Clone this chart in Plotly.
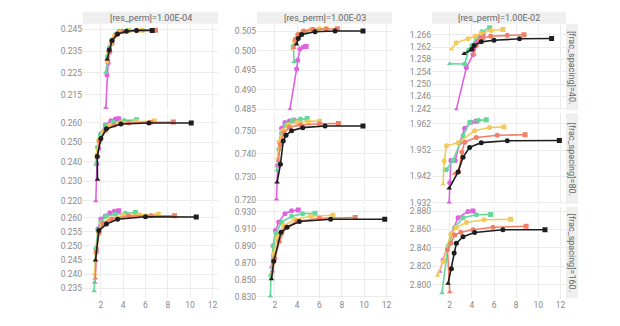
import plotly.graph_objects as go

# ---------------- data ----------------
COL_TITLES = ["[res_perm]=1.00E-04", "[res_perm]=1.00E-03", "[res_perm]=1.00E-02"]
ROW_TITLES = ["[frac_spacing]=40.", "[frac_spacing]=80.", "[frac_spacing]=160."]
SERIES = ["magenta", "green", "yellow", "orange", "black"]
COLORS = ["#DF62DF", "#66D79A", "#F3C95A", "#F07F68", "#1E1E1E"]

# row 1, col 1
p11_magenta_x = [2.45, 2.55, 2.65, 2.8, 3.0, 3.3, 3.7]
p11_magenta_y = [0.2090, 0.2240, 0.2295, 0.2345, 0.2385, 0.2425, 0.2440]
p11_green_x = [2.45, 2.6, 2.75, 3.0, 3.4, 3.9, 4.5]
p11_green_y = [0.2253, 0.2325, 0.2365, 0.2400, 0.2430, 0.2442, 0.2445]
p11_yellow_x = [2.55, 2.7, 2.9, 3.2, 3.7, 4.5, 5.7]
p11_yellow_y = [0.2300, 0.2345, 0.2385, 0.2418, 0.2438, 0.2445, 0.2446]
p11_orange_x = [2.6, 2.75, 3.0, 3.4, 4.0, 5.2, 6.9]
p11_orange_y = [0.2310, 0.2350, 0.2395, 0.2425, 0.2440, 0.2445, 0.2446]
p11_black_x = [2.57, 2.75, 3.0, 3.5, 4.3, 5.2, 6.6]
p11_black_y = [0.2313, 0.2355, 0.2399, 0.2428, 0.2441, 0.2445, 0.2445]

# row 1, col 2
p12_magenta_x = [3.35, 3.95, 4.05, 4.25, 4.55, 4.8]
p12_magenta_y = [0.4850, 0.4953, 0.4976, 0.5005, 0.5010, 0.5011]
p12_green_x = [3.73, 3.65, 3.85, 4.25, 4.8, 5.4]
p12_green_y = [0.4972, 0.5012, 0.5030, 0.5041, 0.5048, 0.5055]
p12_yellow_x = [3.6, 3.75, 4.0, 4.5, 5.2, 6.0, 6.6]
p12_yellow_y = [0.5005, 0.5025, 0.5040, 0.5050, 0.5055, 0.5057, 0.5057]
p12_orange_x = [3.7, 3.85, 4.1, 4.6, 5.4, 6.6, 7.6]
p12_orange_y = [0.5008, 0.5030, 0.5043, 0.5051, 0.5055, 0.5056, 0.5057]
p12_black_x = [3.95, 4.1, 4.4, 5.6, 7.4, 9.9]
p12_black_y = [0.5017, 0.5032, 0.5042, 0.5049, 0.5051, 0.5051]

# row 1, col 3
p13_magenta_x = [2.6, 3.5, 4.1, 4.4, 4.7, 5.0]
p13_magenta_y = [1.2418, 1.2553, 1.2595, 1.2640, 1.2655, 1.2663]
p13_green_x = [2.0, 3.35, 3.7, 4.0, 4.4, 4.9, 5.6]
p13_green_y = [1.2566, 1.2565, 1.2610, 1.2625, 1.2650, 1.2670, 1.2683]
p13_yellow_x = [2.15, 2.6, 3.65, 4.3, 4.85, 5.75, 6.8]
p13_yellow_y = [1.2613, 1.2634, 1.2647, 1.2655, 1.2665, 1.2674, 1.2677]
p13_orange_x = [4.2, 4.4, 4.7, 5.0, 5.7, 7.2, 8.7]
p13_orange_y = [1.2597, 1.2625, 1.2642, 1.2650, 1.2655, 1.2658, 1.2660]
p13_black_x = [3.3, 4.0, 4.2, 4.85, 6.0, 8.3, 11.2]
p13_black_y = [1.2598, 1.2613, 1.2625, 1.2637, 1.2642, 1.2647, 1.2648]

# row 2, col 1
p21_magenta_x = [1.55, 1.65, 1.8, 2.0, 2.4, 2.9, 3.3, 3.6]
p21_magenta_y = [0.2200, 0.2390, 0.2470, 0.2545, 0.2590, 0.2612, 0.2620, 0.2622]
p21_green_x = [1.55, 1.7, 1.95, 2.4, 3.1, 4.1, 5.2]
p21_green_y = [0.2390, 0.2475, 0.2540, 0.2585, 0.2605, 0.2613, 0.2616]
p21_yellow_x = [1.6, 1.8, 2.2, 2.8, 3.8, 5.2, 6.8]
p21_yellow_y = [0.2440, 0.2510, 0.2555, 0.2588, 0.2603, 0.2608, 0.2610]
p21_orange_x = [1.65, 1.9, 2.4, 3.2, 4.5, 6.5, 8.5]
p21_orange_y = [0.2425, 0.2505, 0.2560, 0.2588, 0.2600, 0.2604, 0.2605]
p21_black_x = [1.7, 1.68, 2.0, 2.5, 3.8, 6.3, 10.1]
p21_black_y = [0.2310, 0.2428, 0.2520, 0.2570, 0.2595, 0.2600, 0.2600]

# row 2, col 2
p22_magenta_x = [2.15, 2.25, 2.4, 2.6, 2.9, 3.3, 3.7]
p22_magenta_y = [0.7205, 0.7350, 0.7450, 0.7510, 0.7535, 0.7542, 0.7545]
p22_green_x = [2.2, 2.35, 2.6, 3.0, 3.6, 4.3, 4.9]
p22_green_y = [0.7330, 0.7420, 0.7490, 0.7525, 0.7545, 0.7550, 0.7552]
p22_yellow_x = [2.25, 2.4, 2.7, 3.2, 4.0, 5.0, 6.0]
p22_yellow_y = [0.7380, 0.7450, 0.7500, 0.7525, 0.7535, 0.7540, 0.7541]
p22_orange_x = [2.3, 2.5, 2.8, 3.3, 4.3, 6.0, 7.7]
p22_orange_y = [0.7370, 0.7440, 0.7490, 0.7515, 0.7525, 0.7530, 0.7531]
p22_black_x = [2.2, 2.5, 2.75, 3.0, 3.5, 4.5, 6.5, 9.9]
p22_black_y = [0.7278, 0.7355, 0.7455, 0.7480, 0.7500, 0.7513, 0.7520, 0.7520]

# row 2, col 3
p23_magenta_x = [1.95, 2.0, 2.1, 2.5, 2.9, 3.35, 3.95, 4.4]
p23_magenta_y = [1.9320, 1.9395, 1.9480, 1.9480, 1.9548, 1.9603, 1.9626, 1.9630]
p23_green_x = [1.55, 1.7, 2.3, 3.2, 3.8, 4.6, 5.3]
p23_green_y = [1.9445, 1.9445, 1.9480, 1.9574, 1.9626, 1.9633, 1.9635]
p23_yellow_x = [1.4, 1.5, 1.7, 2.75, 4.25, 5.6, 6.9]
p23_yellow_y = [1.9390, 1.9478, 1.9536, 1.9548, 1.9593, 1.9606, 1.9608]
p23_orange_x = [2.45, 2.8, 3.1, 3.35, 4.4, 6.3, 8.8]
p23_orange_y = [1.9430, 1.9437, 1.9512, 1.9550, 1.9568, 1.9576, 1.9578]
p23_black_x = [1.95, 2.75, 3.2, 3.8, 4.85, 7.2, 11.9]
p23_black_y = [1.9374, 1.9436, 1.9492, 1.9530, 1.9548, 1.9555, 1.9556]

# row 3, col 1
p31_magenta_x = [1.45, 1.6, 1.75, 2.0, 2.4, 2.8, 3.2, 3.6]
p31_magenta_y = [0.2370, 0.2490, 0.2560, 0.2595, 0.2605, 0.2617, 0.2622, 0.2624]
p31_green_x = [1.4, 1.55, 1.75, 2.0, 2.5, 3.3, 4.2, 5.1]
p31_green_y = [0.2340, 0.2490, 0.2555, 0.2585, 0.2605, 0.2612, 0.2615, 0.2618]
p31_yellow_x = [1.45, 1.55, 1.8, 2.1, 2.8, 4.0, 5.5, 7.15]
p31_yellow_y = [0.2400, 0.2475, 0.2545, 0.2580, 0.2595, 0.2608, 0.2610, 0.2612]
p31_orange_x = [1.5, 1.6, 1.85, 2.2, 3.0, 4.5, 6.5, 8.6]
p31_orange_y = [0.2385, 0.2480, 0.2545, 0.2580, 0.2595, 0.2605, 0.2606, 0.2606]
p31_black_x = [1.52, 1.82, 2.5, 3.5, 6.0, 10.55]
p31_black_y = [0.2449, 0.2554, 0.2577, 0.2594, 0.2603, 0.2602]

# row 3, col 2
p32_magenta_x = [1.7, 1.85, 2.05, 2.35, 2.9, 3.5, 4.1]
p32_magenta_y = [0.865, 0.890, 0.908, 0.918, 0.928, 0.9315, 0.9323]
p32_green_x = [1.6, 1.65, 1.85, 2.1, 2.6, 3.5, 4.5, 5.6]
p32_green_y = [0.8305, 0.855, 0.890, 0.905, 0.918, 0.925, 0.928, 0.9284]
p32_yellow_x = [1.75, 1.9, 2.2, 2.8, 3.8, 5.2, 7.2]
p32_yellow_y = [0.858, 0.880, 0.900, 0.914, 0.921, 0.925, 0.9261]
p32_orange_x = [1.8, 2.0, 2.4, 3.0, 4.0, 6.0, 9.2]
p32_orange_y = [0.860, 0.875, 0.895, 0.912, 0.919, 0.9225, 0.9234]
p32_black_x = [1.7, 1.9, 2.55, 3.1, 4.2, 7.0, 11.85]
p32_black_y = [0.8508, 0.8718, 0.906, 0.912, 0.9188, 0.9214, 0.9214]

# row 3, col 3
p33_magenta_x = [1.1, 1.4, 2.15, 2.75, 3.65, 4.1]
p33_magenta_y = [2.8141, 2.8267, 2.855, 2.8728, 2.8795, 2.880]
p33_green_x = [1.3, 1.85, 2.45, 3.2, 4.4, 5.7]
p33_green_y = [2.7909, 2.8417, 2.862, 2.8728, 2.876, 2.8763]
p33_yellow_x = [0.9, 1.4, 2.1, 2.6, 3.5, 5.1, 7.5]
p33_yellow_y = [2.8099, 2.8250, 2.855, 2.862, 2.8675, 2.8705, 2.871]
p33_orange_x = [2.0, 1.8, 2.1, 2.45, 3.0, 4.1, 5.9, 8.9]
p33_orange_y = [2.792, 2.838, 2.845, 2.854, 2.857, 2.8597, 2.8623, 2.8635]
p33_black_x = [1.85, 2.15, 2.4, 2.6, 3.2, 4.25, 6.8, 10.6]
p33_black_y = [2.8012, 2.8173, 2.8343, 2.8449, 2.852, 2.8567, 2.8597, 2.8597]

# y axis ranges / ticks per panel
Y_RANGES = {
    11: [0.2078, 0.2476], 12: [0.4847, 0.5070], 13: [1.2415, 1.2696],
    21: [0.2185, 0.2650], 22: [0.7185, 0.7575], 23: [1.9315, 1.9660],
    31: [0.2314, 0.2638], 32: [0.8280, 0.9361], 33: [2.7850, 2.8846],
}
Y_TICKS = {
    11: (0.215, 0.01, ".3f"), 12: (0.485, 0.005, ".3f"), 13: (1.242, 0.004, ".3f"),
    21: (0.22, 0.01, ".3f"), 22: (0.72, 0.01, ".3f"), 23: (1.932, 0.01, ".3f"),
    31: (0.235, 0.005, ".3f"), 32: (0.83, 0.02, ".3f"), 33: (2.8, 0.02, ".3f"),
}
X_RANGE = [0.4, 12.5]

# ---------------- layout geometry (pixels) ----------------
W, H = 620, 326
COLS_PX = [(83, 218), (257, 392), (432, 566)]
ROWS_PX = [(23, 111), (114, 206), (209, 302)]

g = globals()
fig = go.Figure()
layout = dict(
    width=W, height=H, margin=dict(l=0, r=0, t=0, b=0),
    paper_bgcolor="white", plot_bgcolor="white", showlegend=False,
    font=dict(family="Roboto", size=8, color="#888888"),
)
shapes, annotations = [], []

for r in range(3):
    for c in range(3):
        key = (r + 1) * 10 + (c + 1)
        k = r * 3 + c + 1
        xa = "x" if k == 1 else f"x{k}"
        ya = "y" if k == 1 else f"y{k}"
        for s, col in zip(SERIES, COLORS):
            xs = g[f"p{key}_{s}_x"]
            ys = g[f"p{key}_{s}_y"]
            n = len(xs)
            syms = ["triangle-up"] + ["circle"] * (n - 2) + ["square"]
            fig.add_trace(go.Scatter(
                x=xs, y=ys, mode="lines+markers", xaxis=xa, yaxis=ya,
                line=dict(color=col, width=1.6),
                marker=dict(color=col, size=5, symbol=syms),
                name=s, hoverinfo="skip",
            ))
        x0, x1 = COLS_PX[c]
        y0, y1 = ROWS_PX[r]
        t0, dt, fmt = Y_TICKS[key]
        layout["xaxis" if k == 1 else f"xaxis{k}"] = dict(
            domain=[x0 / W, x1 / W], anchor=ya, range=X_RANGE,
            tick0=0, dtick=2, showticklabels=(r == 2),
            showgrid=True, gridcolor="#ececec", gridwidth=1,
            zeroline=False, showline=False, ticks="",
            tickfont=dict(size=8.5, color="#8a8a8a"),
        )
        layout["yaxis" if k == 1 else f"yaxis{k}"] = dict(
            domain=[1 - y1 / H, 1 - y0 / H], anchor=xa, range=Y_RANGES[key],
            tick0=t0, dtick=dt, tickformat=fmt,
            showgrid=True, gridcolor="#ececec", gridwidth=1,
            zeroline=False, showline=False, ticks="",
            tickfont=dict(size=8.5, color="#8a8a8a"),
        )

# column title strips
for c, title in enumerate(COL_TITLES):
    x0, x1 = COLS_PX[c]
    shapes.append(dict(type="rect", xref="paper", yref="paper",
                       x0=x0 / W, x1=x1 / W, y0=1 - 23 / H, y1=1 - 11 / H,
                       fillcolor="#efefef", line=dict(width=0), layer="below"))
    annotations.append(dict(text=title, xref="paper", yref="paper",
                            x=(x0 + x1) / 2 / W, y=1 - 17 / H, showarrow=False,
                            font=dict(size=9, color="#666666"),
                            xanchor="center", yanchor="middle"))

# row title strips
for r, title in enumerate(ROW_TITLES):
    y0, y1 = ROWS_PX[r]
    shapes.append(dict(type="rect", xref="paper", yref="paper",
                       x0=566 / W, x1=578 / W, y0=1 - y1 / H, y1=1 - y0 / H,
                       fillcolor="#efefef", line=dict(width=0), layer="below"))
    annotations.append(dict(text=title, xref="paper", yref="paper",
                            x=572 / W, y=1 - (y0 + y1) / 2 / H, showarrow=False,
                            textangle=90, font=dict(size=9, color="#666666"),
                            xanchor="center", yanchor="middle"))

layout["shapes"] = shapes
layout["annotations"] = annotations
fig.update_layout(**layout)
fig.write_html("out.html")
